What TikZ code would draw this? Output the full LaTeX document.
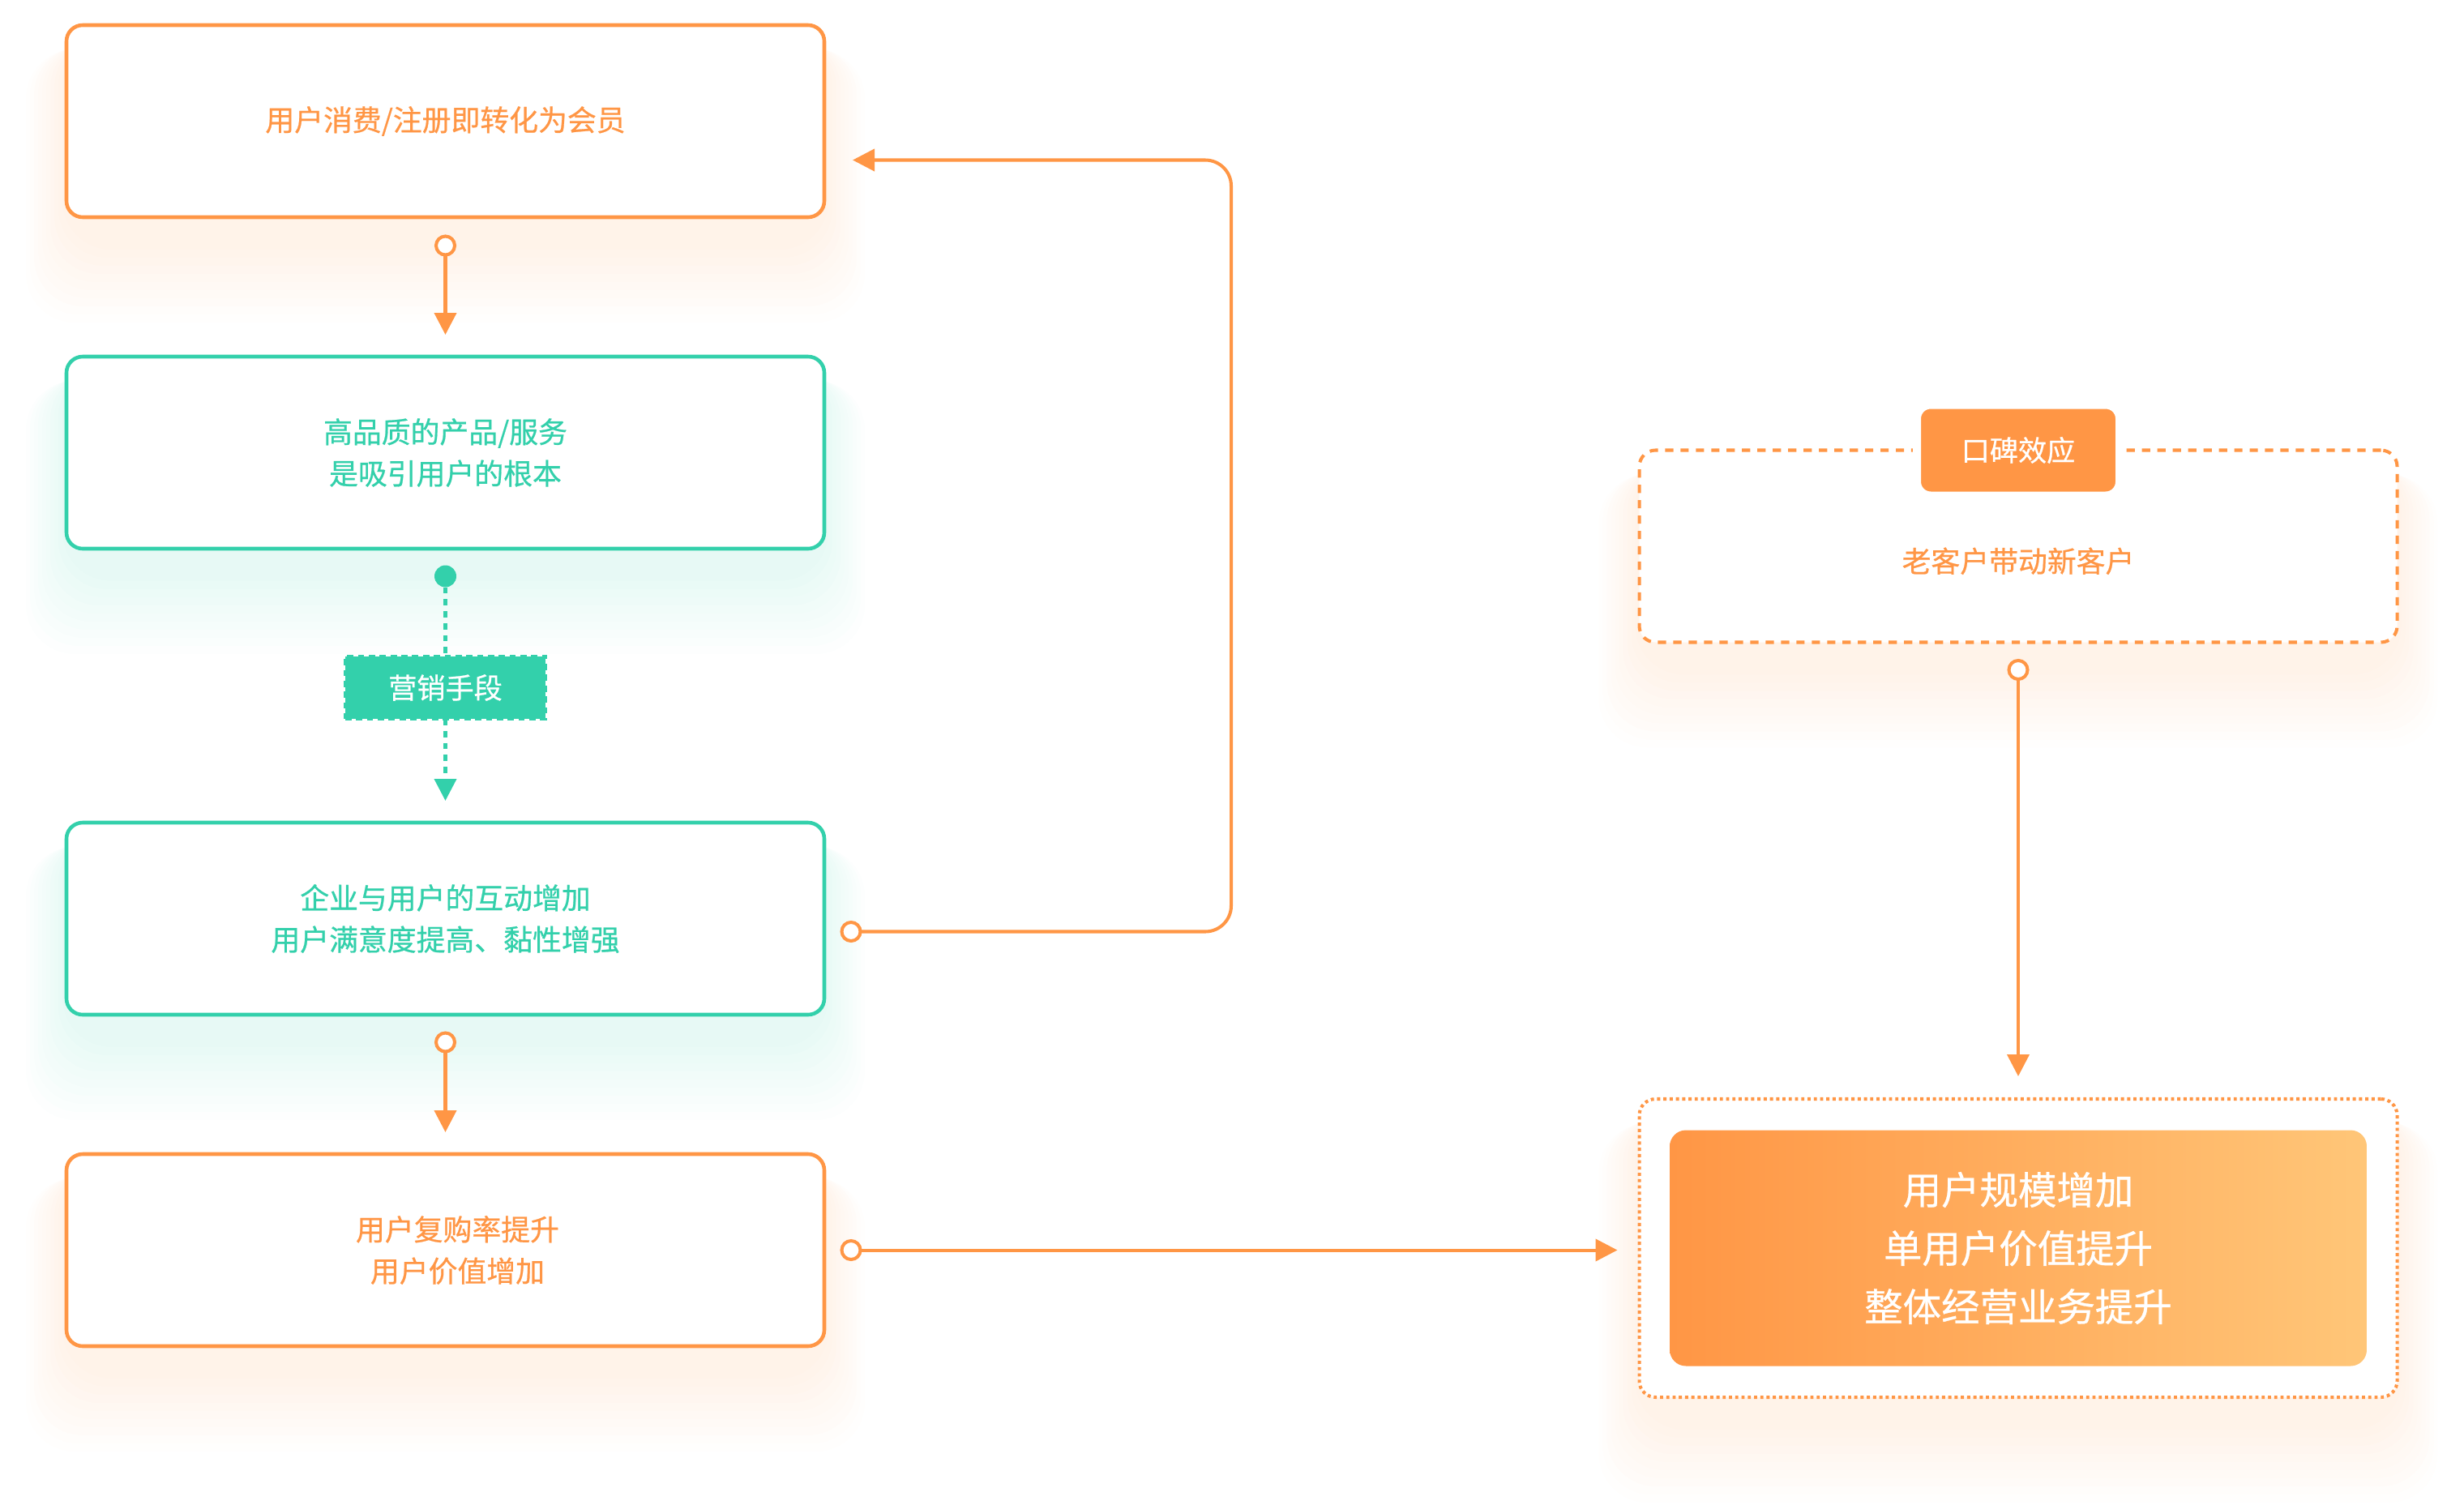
\documentclass[tikz,border=0pt]{standalone}
\usepackage{fontspec}
\setmainfont{Noto Sans CJK SC}[FakeBold=0.6]
\usepackage{tikz}
\usetikzlibrary{positioning,arrows.meta,backgrounds}
\definecolor{orng}{HTML}{FF9645}
\definecolor{lorng}{HTML}{FFC678}
\definecolor{grn}{HTML}{33D0AB}
\tikzstyle{obox} = [rectangle, rounded corners=0.2cm, minimum width=9.35cm, minimum height=2.37cm, outer sep=0pt, text centered, align=center, draw=orng, line width=1.3pt, fill=white, text=orng, font=\fontsize{10.2pt}{14.6pt}\selectfont]
\tikzstyle{gbox} = [obox, draw=grn, text=grn]
\tikzstyle{arrow} = [line width=1.15pt, draw=orng, ->, >={Triangle[length=0.27cm,width=0.27cm]}]
\tikzset{
 od/.style
  = {circle, draw=orng, fill=white, line width=1.15pt, minimum size=0.23cm, inner sep=0pt, outer sep=0pt},
 fd/.style
  = {circle, fill=grn, minimum size=0.27cm, inner sep=0pt, outer sep=0pt},
 mk/.style
  = {rectangle, fill=grn, draw=grn, line width=1.2pt, dash pattern=on 2.2pt off 1.6pt, outer sep=0pt,
     minimum width=2.47cm, minimum height=0.77cm, text=white, font=\fontsize{10pt}{12pt}\selectfont},
 tag/.style
  = {rectangle, fill=orng, draw=white, line width=0.1cm, rounded corners=0.17cm,
     minimum width=2.5cm, minimum height=1.12cm, text=white, font=\fontsize{10pt}{12pt}\selectfont},
 db/.style
  = {rectangle, draw=orng, line width=1.15pt, dash pattern=on 2.9pt off 2.5pt, rounded corners=0.2cm, outer sep=0pt,
     fill=white, minimum width=9.35cm, minimum height=2.37cm, text=orng, font=\fontsize{10.2pt}{12pt}\selectfont},
 pb/.style
  = {rectangle, draw=orng, line width=1.15pt, dash pattern=on 1.1pt off 1.1pt, rounded corners=0.2cm, outer sep=0pt,
     fill=white, minimum width=9.35cm, minimum height=3.68cm},
 res/.style
  = {rectangle, rounded corners=0.2cm, left color=orng, right color=lorng, minimum width=8.6cm,
     minimum height=2.91cm, align=center, text=white, font=\fontsize{13.5pt}{20.5pt}\selectfont},
 dotarrow/.style
  = {line width=1.15pt, draw=grn, dash pattern=on 2.2pt off 2pt, ->, >={Triangle[length=0.27cm,width=0.27cm]}},
 dotline/.style
  = {line width=1.15pt, draw=grn, dash pattern=on 2.2pt off 2pt},
}
% soft glow under a box
\newcommand{\glow}[2]{%
 \begin{pgfonlayer}{background}
 \foreach \g in {1,...,10}
  \fill [#2, opacity=0.013, rounded corners=0.6cm]
   ([xshift=-\g*0.05cm, yshift=-0.3cm-\g*0.1cm]#1.south west)
   rectangle ([xshift=\g*0.05cm, yshift=-0.1cm-\g*0.02cm]#1.north east);
 \end{pgfonlayer}}

\begin{document}
\begin{tikzpicture}
\useasboundingbox (0,0) rectangle (30.4,-18.56);
\node (box1) [obox] at (5.495,-1.495) {用户消费/注册即转化为会员};
\node (c1) [od, below=0.235cm of box1] {};
\node (box2) [gbox, below=1.72cm of box1] {高品质的产品/服务\\是吸引用户的根本};
\node (fd1) [fd, below=0.205cm of box2] {};
\node (mkt) [mk, below=1.33cm of box2] {营销手段};
\node (box3) [gbox, below=3.38cm of box2] {企业与用户的互动增加\\用户满意度提高、黏性增强};
\node (c3) [od, below=0.225cm of box3] {};
\node (c3r) [od, right=0.215cm of box3, yshift=-0.16cm] {};
\node (box4) [obox, below=1.72cm of box3] {\hspace*{0.3cm}用户复购率提升\\\hspace*{0.3cm}用户价值增加};
\node (c4r) [od, right=0.215cm of box4] {};

\node (old) [db] at (24.9,-6.74) {\raisebox{-0.32cm}[0pt][0pt]{老客户带动新客户}};
\node (wom) [tag] at (old.north) {口碑效应};
\node (c5) [od, below=0.225cm of old] {};
\node (frame) [pb] at (24.9,-15.4) {};
\node (gain) [res] at (frame.center) {用户规模增加\\单用户价值提升\\整体经营业务提升};

\glow{box1}{orng}
\glow{box2}{grn}
\glow{box3}{grn}
\glow{box4}{orng}
\glow{old}{orng}
\glow{frame}{orng}

\draw [arrow] (c1) -- ([yshift=0.27cm]box2.north);
\draw [dotline] (fd1) -- (mkt);
\draw [dotarrow] (mkt) -- ([yshift=0.27cm]box3.north);
\draw [arrow] (c3) -- ([yshift=0.27cm]box4.north);
\draw [arrow, rounded corners=0.32cm] (c3r) -- ++(4.69,0) |- ([xshift=0.35cm,yshift=-0.48cm]box1.east);
\draw [arrow] (c4r) -- ([xshift=-0.27cm]c4r -| frame.west);
\draw [arrow] (c5) -- ([yshift=0.28cm]frame.north);
\end{tikzpicture}
\end{document}
